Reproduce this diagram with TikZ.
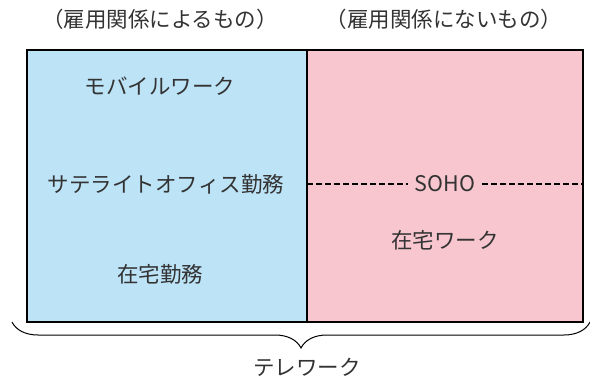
\documentclass[tikz,border=0pt]{standalone}
\usepackage{fontspec}
\newfontfamily\cjk{Noto Sans CJK JP}
\usetikzlibrary{decorations.pathreplacing}
\definecolor{lblue}{HTML}{BDE3F7}
\definecolor{lpink}{HTML}{F7C6CF}
\definecolor{txt}{HTML}{333333}
\tikzset{
  lbl/.style={font=\cjk\fontsize{21.5}{24}\selectfont, text=txt, inner sep=1pt},
  boxline/.style={draw=black, line width=1.8pt},
}
\begin{document}
\begin{tikzpicture}[x=1pt,y=-1pt]
\useasboundingbox (0,0) rectangle (590,378);
\fill[lblue] (27,50) rectangle (307,322);
\fill[lpink] (307,50) rectangle (583,322);
\node[lbl] (h1) at (160,19) {（雇用関係によるもの）};
\node[lbl] (h2) at (444,19) {（雇用関係にないもの）};
\node[lbl] (m1) at (160,86) {モバイルワーク};
\node[lbl] (m2) at (166,184) {サテライトオフィス勤務};
\node[lbl] (m3) at (160,274) {在宅勤務};
\node[lbl, fill=lpink, inner xsep=7pt] (soho) at (445,184) {SOHO};
\node[lbl] (r2) at (445,240) {在宅ワーク};
\coordinate (dl) at (307,184);
\coordinate (dr) at (583,184);
\draw[line width=1.8pt, dash pattern=on 6pt off 3pt] (dl) -- (soho.west);
\draw[line width=1.8pt, dash pattern=on 6pt off 3pt] (soho.east) -- (dr);
\draw[boxline] (27,50) rectangle (583,322);
\draw[boxline] (307,50) -- (307,322);
\coordinate (bl) at (12,322);
\coordinate (br) at (590,322);
\draw[line width=1pt, decorate, decoration={brace, mirror, amplitude=26pt}] (bl) -- (br);
\node[lbl] (tw) at (307,367) {テレワーク};
\end{tikzpicture}
\end{document}
